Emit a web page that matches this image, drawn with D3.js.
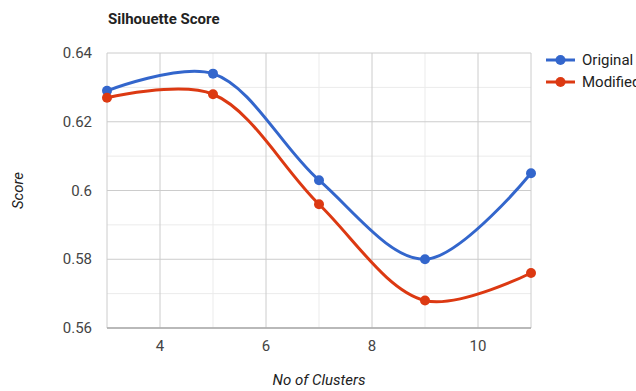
<!DOCTYPE html>
<html lang="en">
<head>
    <title>Silhouette Score</title>
    <script src="https://d3js.org/d3.v7.min.js"></script>
    <style>
        body { margin: 0; background: #fff; }
        text { font-family: Roboto, Arial, sans-serif; }
    </style>
</head>
<body>

<script>
    const clusters = [3, 5, 7, 9, 11];
    const original = [0.629, 0.634, 0.603, 0.580, 0.605];
    const modified = [0.627, 0.628, 0.596, 0.568, 0.576];
    const seriesNames = ['Original', 'Modified'];
    const colors = ['#3366cc', '#dc3912'];
    const xTicks = [4, 6, 8, 10];
    const yTicks = [0.56, 0.58, 0.6, 0.62, 0.64];

    const width = 636, height = 391;
    const m = {left: 107, right: 105, top: 53, bottom: 63};

    const svg = d3.select("body").append("svg").attr("width", width).attr("height", height);

    const x = d3.scaleLinear().domain([3, 11]).range([m.left, width - m.right]);
    const y = d3.scaleLinear().domain([0.56, 0.64]).range([height - m.bottom, m.top]);

    // minor grid
    const g = svg.append("g");
    g.selectAll("line.vminor").data([5, 7, 9]).join("line")
        .attr("x1", d => x(d)).attr("x2", d => x(d))
        .attr("y1", y(0.64)).attr("y2", y(0.56))
        .attr("stroke", "#ebebeb");
    g.selectAll("line.hminor").data([0.57, 0.59, 0.61, 0.63]).join("line")
        .attr("y1", d => y(d)).attr("y2", d => y(d))
        .attr("x1", x(3)).attr("x2", x(11))
        .attr("stroke", "#ebebeb");
    // major grid
    g.selectAll("line.vmajor").data([3].concat(xTicks, [11])).join("line")
        .attr("x1", d => x(d)).attr("x2", d => x(d))
        .attr("y1", y(0.64)).attr("y2", y(0.56))
        .attr("stroke", "#cccccc");
    g.selectAll("line.hmajor").data(yTicks).join("line")
        .attr("y1", d => y(d)).attr("y2", d => y(d))
        .attr("x1", x(3)).attr("x2", x(11))
        .attr("stroke", "#cccccc");
    // baseline
    g.append("line")
        .attr("x1", x(3)).attr("x2", x(11))
        .attr("y1", y(0.56)).attr("y2", y(0.56))
        .attr("stroke", "#aaaaaa").attr("stroke-width", 1.5);

    // tick labels
    svg.append("g").selectAll("text").data(yTicks).join("text")
        .attr("x", m.left - 15).attr("y", d => y(d) + 5)
        .attr("text-anchor", "end").attr("font-size", 15).attr("fill", "#444")
        .text(d => d === 0.6 ? "0.6" : d.toFixed(2));
    svg.append("g").selectAll("text").data(xTicks).join("text")
        .attr("x", d => x(d)).attr("y", height - m.bottom + 23)
        .attr("text-anchor", "middle").attr("font-size", 15).attr("fill", "#444")
        .text(d => d);

    // titles
    svg.append("text").attr("x", 108).attr("y", 24)
        .attr("font-size", 15).attr("font-weight", "bold").attr("fill", "#222")
        .text("Silhouette Score");
    svg.append("text").attr("x", (x(3) + x(11)) / 2).attr("y", 385)
        .attr("text-anchor", "middle").attr("font-size", 15).attr("font-style", "italic").attr("fill", "#222")
        .text("No of Clusters");
    svg.append("text").attr("transform", `translate(23,${(y(0.56) + y(0.64)) / 2}) rotate(-90)`)
        .attr("text-anchor", "middle").attr("font-size", 15).attr("font-style", "italic").attr("fill", "#222")
        .text("Score");

    // series
    const series = [original, modified];
    const line = d3.line()
        .x((d, i) => x(clusters[i]))
        .y(d => y(d))
        .curve(d3.curveCatmullRom.alpha(0.5));

    series.forEach((vals, s) => {
        svg.append("path").datum(vals)
            .attr("d", line)
            .attr("fill", "none").attr("stroke", colors[s]).attr("stroke-width", 3);
        svg.append("g").selectAll("circle").data(vals).join("circle")
            .attr("cx", (d, i) => x(clusters[i])).attr("cy", d => y(d))
            .attr("r", 5).attr("fill", colors[s]);
    });

    // legend
    const lg = svg.append("g").selectAll("g").data(seriesNames).join("g")
        .attr("transform", (d, i) => `translate(546,${60 + i * 22})`);
    lg.append("line").attr("x1", 0).attr("x2", 29)
        .attr("stroke", (d, i) => colors[i]).attr("stroke-width", 3);
    lg.append("circle").attr("cx", 14.5).attr("r", 5).attr("fill", (d, i) => colors[i]);
    lg.append("text").attr("x", 36).attr("y", 5)
        .attr("font-size", 15).attr("fill", "#222").text(d => d);
</script>

</body>
</html>
